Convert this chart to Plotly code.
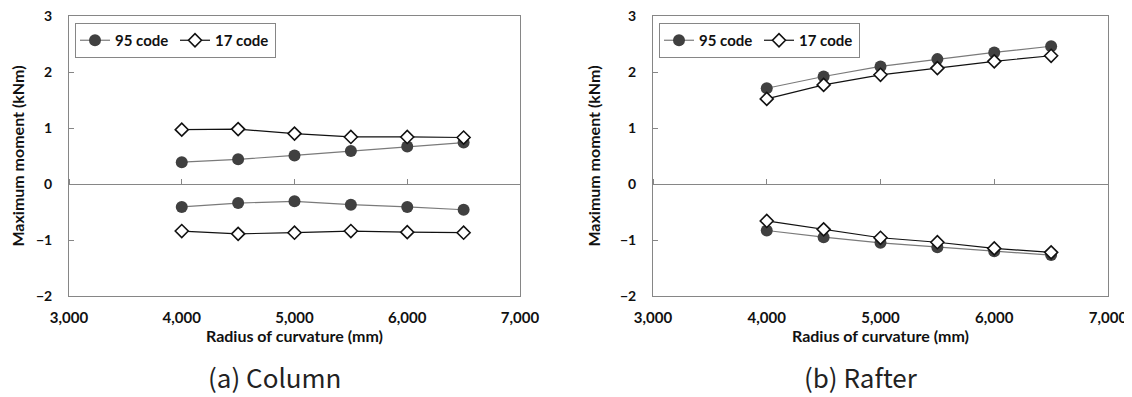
import plotly.graph_objects as go

radius = [4000, 4500, 5000, 5500, 6000, 6500]

# (a) Column
col_95_pos = [0.39, 0.44, 0.51, 0.59, 0.67, 0.74]
col_95_neg = [-0.41, -0.34, -0.31, -0.37, -0.41, -0.46]
col_17_pos = [0.97, 0.98, 0.90, 0.84, 0.84, 0.83]
col_17_neg = [-0.84, -0.89, -0.87, -0.84, -0.86, -0.87]

# (b) Rafter
raf_95_pos = [1.71, 1.92, 2.10, 2.23, 2.35, 2.46]
raf_95_neg = [-0.83, -0.95, -1.05, -1.13, -1.20, -1.27]
raf_17_pos = [1.52, 1.77, 1.95, 2.07, 2.19, 2.29]
raf_17_neg = [-0.66, -0.81, -0.96, -1.04, -1.15, -1.22]

series_names = ["95 code", "17 code"]
x_ticks = [3000, 4000, 5000, 6000, 7000]
x_tick_text = ["3,000", "4,000", "5,000", "6,000", "7,000"]
y_ticks = [-2, -1, 0, 1, 2, 3]
subtitles = ["(a) Column", "(b) Rafter"]
x_title = "Radius of curvature (mm)"
y_title = "Maximum moment (kNm)"

# the page body has an 8px margin: figure is drawn offset by (8, 8)
OFF = 8
W, H = 1132 - OFF, 397 - OFF
FONT = "Lato"
TXT = "#111111"
AX = "#868686"


def px(x):
    return (x - OFF) / W


def py(y):
    return 1 - (y - OFF) / H


fig = go.Figure()

panels = [
    (col_95_pos, col_95_neg, col_17_pos, col_17_neg, "x", "y", "legend"),
    (raf_95_pos, raf_95_neg, raf_17_pos, raf_17_neg, "x2", "y2", "legend2"),
]

for p95, n95, p17, n17, xa, ya, lg in panels:
    for i, vals in enumerate([p95, n95]):
        fig.add_trace(go.Scatter(
            x=radius, y=vals, mode="lines+markers", name=series_names[0],
            legendgroup="95" + xa, showlegend=(i == 0), legend=lg,
            line=dict(color="#7a7a7a", width=1.2),
            marker=dict(symbol="circle", size=12, color="#404040",
                        line=dict(color="#404040", width=0)),
            xaxis=xa, yaxis=ya))
    for i, vals in enumerate([p17, n17]):
        fig.add_trace(go.Scatter(
            x=radius, y=vals, mode="lines+markers", name=series_names[1],
            legendgroup="17" + xa, showlegend=(i == 0), legend=lg,
            line=dict(color="#111111", width=1.2),
            marker=dict(symbol="diamond", size=10, color="white",
                        line=dict(color="#111111", width=1.6)),
            xaxis=xa, yaxis=ya))

doms_x = [[px(69), px(520)], [px(653), px(1108)]]
dom_y = [py(296), py(16)]
zero_pos = dom_y[0] + (dom_y[1] - dom_y[0]) * (0 - (-2)) / 5

xtickfont = dict(family=FONT, size=15, color=TXT, weight="bold")
ytickfont = dict(family=FONT, size=14, color=TXT, weight="bold")
titlefont = dict(family=FONT, size=16, color=TXT, weight="bold")

layout = dict(
    width=W, height=H, margin=dict(l=0, r=0, t=0, b=0, autoexpand=False),
    paper_bgcolor="white", plot_bgcolor="white",
    font=dict(family=FONT, color=TXT),
)

for k, (xd, ax_suffix) in enumerate(zip(doms_x, ["", "2"])):
    xname = "xaxis" + ax_suffix
    yname = "yaxis" + ax_suffix
    ov_name = "xaxis" + str(3 + k)
    layout[xname] = dict(
        domain=xd, range=[3000, 7000], tickvals=x_ticks, ticktext=x_tick_text,
        showgrid=False, zeroline=False, ticks="", showline=True, linecolor=AX,
        linewidth=1, mirror=True, tickfont=xtickfont, ticklabelstandoff=8,
        ticklabeloverflow="allow",
        anchor="y" + ax_suffix, automargin=False,
        title=dict(text=x_title, font=titlefont, standoff=4),
    )
    layout[yname] = dict(
        domain=dom_y, range=[-2, 3], tickvals=y_ticks, showgrid=False,
        zeroline=False, ticks="inside", ticklen=5, tickcolor=AX,
        showline=True, linecolor=AX, linewidth=1, mirror=True,
        tickfont=ytickfont, ticklabelstandoff=13, ticklabeloverflow="allow",
        anchor="x" + ax_suffix, automargin=False,
        title=dict(text=y_title, font=titlefont, standoff=15),
    )
    # axis line crossing at zero, with upward tick marks
    layout[ov_name] = dict(
        overlaying="x" + ax_suffix, matches="x" + ax_suffix, domain=xd,
        range=[3000, 7000], tickvals=x_ticks, anchor="free", position=zero_pos,
        side="top", showticklabels=False, ticks="outside", ticklen=5,
        tickcolor=AX, showline=True, linecolor=AX, linewidth=1,
        showgrid=False, zeroline=False, automargin=False,
    )

legend_common = dict(
    orientation="h", xanchor="left", yanchor="top",
    bordercolor=AX, borderwidth=1, bgcolor="white",
    font=dict(family=FONT, size=15, color=TXT, weight="bold"),
    entrywidth=55, itemwidth=30, tracegroupgap=0,
)
layout["legend"] = dict(legend_common, x=px(75), y=py(23))
layout["legend2"] = dict(legend_common, x=px(659), y=py(23))

fig.update_layout(**layout)

# attach the overlay axes to dummy invisible traces so they render
for k in range(2):
    fig.add_trace(go.Scatter(x=[None], y=[None], xaxis="x" + str(3 + k),
                             yaxis="y" if k == 0 else "y2", showlegend=False,
                             hoverinfo="skip"))

for k, txt in enumerate(subtitles):
    cx = (doms_x[k][0] + doms_x[k][1]) / 2 - 20 / W
    fig.add_annotation(text=txt, x=cx, y=py(376), xref="paper", yref="paper",
                       showarrow=False, xanchor="center", yanchor="middle",
                       font=dict(family="Noto Sans CJK KR", size=26, color="#222222"))

fig.write_html("out.html")
